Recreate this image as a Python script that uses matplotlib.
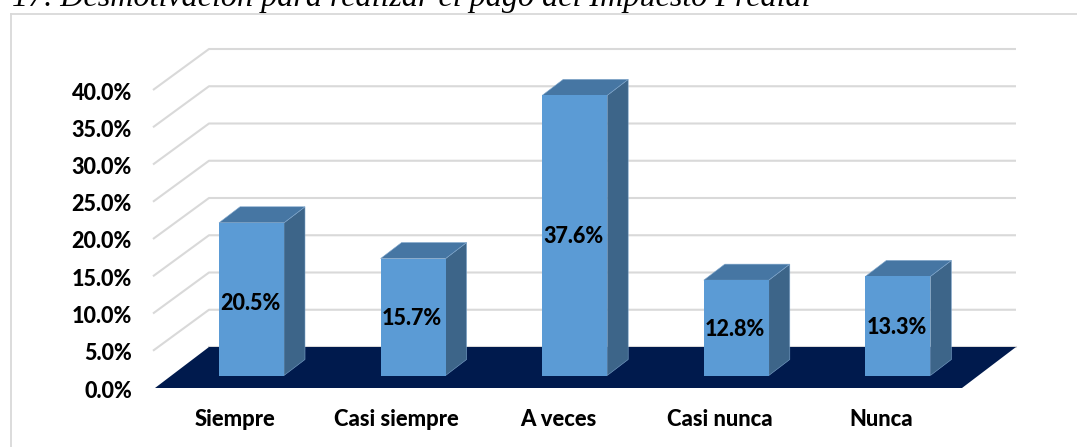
import matplotlib
matplotlib.use("Agg")
import matplotlib.pyplot as plt
from matplotlib.patches import Polygon

categories = ["Siempre", "Casi siempre", "A veces", "Casi nunca", "Nunca"]
values = [20.5, 15.7, 37.6, 12.8, 13.3]
value_labels = ["20.5%", "15.7%", "37.6%", "12.8%", "13.3%"]
y_ticks = [0, 5, 10, 15, 20, 25, 30, 35, 40]
y_tick_labels = ["0.0%", "5.0%", "10.0%", "15.0%", "20.0%", "25.0%", "30.0%", "35.0%", "40.0%"]
title = "17. Desmotivación para realizar el pago del Impuesto Predial"

W, H = 1077, 447
fig = plt.figure(figsize=(W / 100, H / 100), dpi=100, facecolor="white")
ax = fig.add_axes([0, 0, 1, 1])

# data scale: one category = 161.6 px, one percentage point = 7.45 px
PX_CAT = 161.6
PX_PCT = 7.45
X0_PX = 251.5   # pixel x of category 0
Y0_PX = 388.0   # pixel y of 0 %
ax.set_xlim(-X0_PX / PX_CAT, (W - X0_PX) / PX_CAT)
ax.set_ylim((Y0_PX - H) / PX_PCT, Y0_PX / PX_PCT)
ax.axis("off")

dx = lambda px: px / PX_CAT
dy = lambda px: px / PX_PCT
FONT = "Lato"
WEIGHT = 900

# outer frame: top rule runs to the picture's edge, left rule to the bottom
ax.plot([dx(11 - X0_PX), dx(W - X0_PX)], [dy(Y0_PX - 14)] * 2, color="#d9d9d9", lw=1.3, zorder=1)
ax.plot([dx(11 - X0_PX)] * 2, [dy(Y0_PX - 14), dy(Y0_PX - H)], color="#d9d9d9", lw=1.3, zorder=1)

# wall gridlines
left = dx(153 - X0_PX)
back_x = dx(56)
back_y = dy(41)
right = dx(1016 - X0_PX)
for t in y_ticks[1:]:
    ax.plot([left, left + back_x, right], [t, t + back_y, t + back_y],
            color="#d9d9d9", lw=1.5, zorder=2, solid_capstyle="butt")
ax.plot([left + back_x, right], [back_y, back_y], color="#d9d9d9", lw=1.5, zorder=2)

# floor
fl = dx(155 - X0_PX)
fr = dx(962 - X0_PX)
ax.add_patch(Polygon([(fl, 0), (fr, 0), (fr + dx(54), back_y), (fl + dx(54), back_y)],
                     closed=True, fc="#001a4d", ec="none", zorder=3))

# bars
bw = 65 / PX_CAT
bottom = dy(12.5)
ox, oy = dx(21), dy(16)
nudges = [4, 1, 1, 2, 2]  # the source's labels sit slightly below their bars' middles
for i, v in enumerate(values):
    xl, xr = i - bw / 2, i + bw / 2
    top = bottom + v
    ax.add_patch(Polygon([(xr, bottom), (xr + ox, bottom + oy), (xr + ox, top + oy), (xr, top)],
                         closed=True, fc="#3d6589", ec="#7fa6cc", lw=0.4, zorder=4))
    ax.add_patch(Polygon([(xl, top), (xr, top), (xr + ox, top + oy), (xl + ox, top + oy)],
                         closed=True, fc="#4676a3", ec="#7fa6cc", lw=0.4, zorder=4))
    ax.bar(i, v, width=bw, bottom=bottom, color="#5b9bd5", zorder=5)
    ax.text(i - dx(1), bottom + v / 2 - dy(nudges[i]), value_labels[i], ha="center", va="center",
            family=FONT, weight=WEIGHT, fontsize=15.5, color="black", zorder=6)

# tick labels
for t, lab in zip(y_ticks, y_tick_labels):
    ax.text(dx(132 - X0_PX), t - dy(3), lab, ha="right", va="center",
            family=FONT, weight=WEIGHT, fontsize=15.5, color="black", zorder=6)
label_y = dy(388 - 419)
for i, c in enumerate(categories):
    ax.text(i - dx(16.5), label_y, c, ha="center", va="center",
            family=FONT, weight=WEIGHT, fontsize=15.8, color="black", zorder=6)

ax.text(dx(12 - X0_PX), dy(388 - 6), title, ha="left", va="baseline",
        family="Liberation Serif", style="italic", fontsize=23.1, color="black", zorder=6)

fig.savefig("out.png", dpi=100, facecolor="white")
